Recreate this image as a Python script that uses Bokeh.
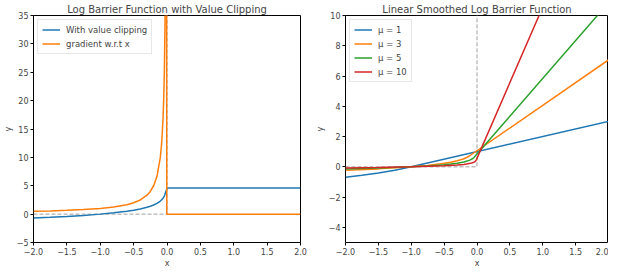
from bokeh.plotting import figure
from bokeh.layouts import row
from bokeh.models import FixedTicker, Legend, LegendItem, Range1d
from bokeh.embed import file_html
from bokeh.resources import INLINE

# ---- left panel data ----
clip_x = [-2.0, -1.75, -1.5, -1.25, -1.0, -0.8, -0.6, -0.5, -0.4, -0.3, -0.25, -0.2, -0.15,
          -0.1, -0.08, -0.06, -0.05, -0.04, -0.03, -0.02, -0.01, 0.0, 2.0]
clip_y = [-0.693, -0.560, -0.405, -0.223, 0.0, 0.223, 0.511, 0.693, 0.916, 1.204, 1.386, 1.609, 1.897,
          2.303, 2.526, 2.813, 2.996, 3.219, 3.507, 3.912, 4.2, 4.605, 4.605]
grad_x = [-2.0, -1.75, -1.5, -1.25, -1.0, -0.8, -0.6, -0.5, -0.4, -0.3, -0.25, -0.2, -0.15,
          -0.1, -0.08, -0.06, -0.05, -0.04, -0.03, -0.02, -0.01, -0.003, 2.0]
grad_y = [0.5, 0.571, 0.667, 0.8, 1.0, 1.25, 1.667, 2.0, 2.5, 3.333, 4.0, 5.0, 6.667,
          10.0, 12.5, 16.667, 20.0, 25.0, 33.33, 50.0, 100.0, 0.0, 0.0]
ideal_x = [-2.0, 0.0, 0.0]
ideal_y_left = [0.0, 0.0, 40.0]
ideal_y_right = [0.0, 0.0, 12.0]

# ---- right panel data ----
mu1_x = [-2.0, -1.75, -1.5, -1.25, -1.0, 2.0]
mu1_y = [-0.693, -0.560, -0.405, -0.223, 0.0, 3.0]
mu3_x = [-2.0, -1.5, -1.0, -0.75, -0.5, -0.4, -0.3, -0.25, -0.2, -0.15, -0.111, 2.0]
mu3_y = [-0.231, -0.135, 0.0, 0.096, 0.231, 0.305, 0.401, 0.462, 0.536, 0.632, 0.732, 7.066]
mu5_x = [-2.0, -1.5, -1.0, -0.75, -0.5, -0.4, -0.3, -0.2, -0.15, -0.1, -0.07, -0.05, -0.04, 2.0]
mu5_y = [-0.139, -0.081, 0.0, 0.058, 0.139, 0.183, 0.241, 0.322, 0.379, 0.461, 0.532, 0.599, 0.644, 10.844]
mu10_x = [-2.0, -1.5, -1.0, -0.5, -0.3, -0.2, -0.1, -0.06, -0.04, -0.03, -0.02, -0.01, 2.0]
mu10_y = [-0.069, -0.041, 0.0, 0.069, 0.120, 0.161, 0.230, 0.281, 0.322, 0.351, 0.391, 0.461, 20.561]

x_ticks = [-2.0, -1.5, -1.0, -0.5, 0.0, 0.5, 1.0, 1.5, 2.0]
x_tick_labels = ["\u22122.0", "\u22121.5", "\u22121.0", "\u22120.5", "0.0", "0.5", "1.0", "1.5", "2.0"]
left_y_ticks = [-5, 0, 5, 10, 15, 20, 25, 30, 35]
left_y_labels = ["\u22125", "0", "5", "10", "15", "20", "25", "30", "35"]
right_y_ticks = [-4, -2, 0, 2, 4, 6, 8, 10]
right_y_labels = ["\u22124", "\u22122", "0", "2", "4", "6", "8", "10"]

BLUE, ORANGE, GREEN, RED = "#1f77b4", "#ff7f0e", "#2ca02c", "#d62728"
FONT = "DejaVu Sans"


def style(p, yt, yl):
    p.title.text_font = FONT
    p.title.text_font_size = "10px"
    p.title.text_font_style = "normal"
    p.title.align = "center"
    p.title.standoff = 2
    p.outline_line_color = "black"
    p.outline_line_width = 1
    p.xgrid.visible = False
    p.ygrid.visible = False
    for ax in (p.xaxis[0], p.yaxis[0]):
        ax.axis_line_color = None
        ax.minor_tick_line_color = None
        ax.major_tick_out = 3
        ax.major_tick_in = 0
        ax.major_label_text_font = FONT
        ax.major_label_text_font_size = "8px"
        ax.major_label_standoff = 2
        ax.axis_label_text_font = FONT
        ax.axis_label_text_font_size = "8px"
        ax.axis_label_text_font_style = "normal"
        ax.axis_label_standoff = 1
    p.xaxis.ticker = FixedTicker(ticks=x_ticks)
    p.xaxis.major_label_overrides = dict(zip(x_ticks, x_tick_labels))
    p.yaxis.ticker = FixedTicker(ticks=yt)
    p.yaxis.major_label_overrides = dict(zip(yt, yl))
    p.xaxis.axis_label = "x"
    p.yaxis.axis_label = "y"


def legend(p, items):
    lg = Legend(items=items, location="top_left")
    lg.label_text_font = FONT
    lg.label_text_font_size = "8.5px"
    lg.glyph_width = 18
    lg.glyph_height = 11
    lg.spacing = 3
    lg.padding = 4
    lg.margin = 4
    lg.label_standoff = 6
    lg.border_line_color = "#d0d0d0"
    lg.background_fill_alpha = 0.8
    p.add_layout(lg)


p1 = figure(width=312, height=270, x_range=Range1d(-2, 2), y_range=Range1d(-5, 35),
            title="Log Barrier Function with Value Clipping",
            output_backend="svg", toolbar_location=None,
            min_border_left=26, min_border_right=12, min_border_top=4, min_border_bottom=0)
style(p1, left_y_ticks, left_y_labels)
p1.line(ideal_x, ideal_y_left, line_color="#a0a0a0", line_dash="4 2", line_width=1)
r1 = p1.line(clip_x, clip_y, line_color=BLUE, line_width=1.5)
r2 = p1.line(grad_x, grad_y, line_color=ORANGE, line_width=1.5)
legend(p1, [LegendItem(label="With value clipping", renderers=[r1]),
            LegendItem(label="gradient w.r.t x", renderers=[r2])])

p2 = figure(width=296, height=270, x_range=Range1d(-2, 2), y_range=Range1d(-5, 10),
            title="Linear Smoothed Log Barrier Function",
            output_backend="svg", toolbar_location=None,
            min_border_left=26, min_border_right=0, min_border_top=4, min_border_bottom=0)
style(p2, right_y_ticks, right_y_labels)
p2.line(ideal_x, ideal_y_right, line_color="#a0a0a0", line_dash="4 2", line_width=1)
a = p2.line(mu1_x, mu1_y, line_color=BLUE, line_width=1.5)
b = p2.line(mu3_x, mu3_y, line_color=ORANGE, line_width=1.5)
c = p2.line(mu5_x, mu5_y, line_color=GREEN, line_width=1.5)
d = p2.line(mu10_x, mu10_y, line_color=RED, line_width=1.5)
legend(p2, [LegendItem(label="\u03bc = 1", renderers=[a]),
            LegendItem(label="\u03bc = 3", renderers=[b]),
            LegendItem(label="\u03bc = 5", renderers=[c]),
            LegendItem(label="\u03bc = 10", renderers=[d])])

layout = row(p1, p2)
open("out.html", "w").write(file_html(layout, INLINE))
